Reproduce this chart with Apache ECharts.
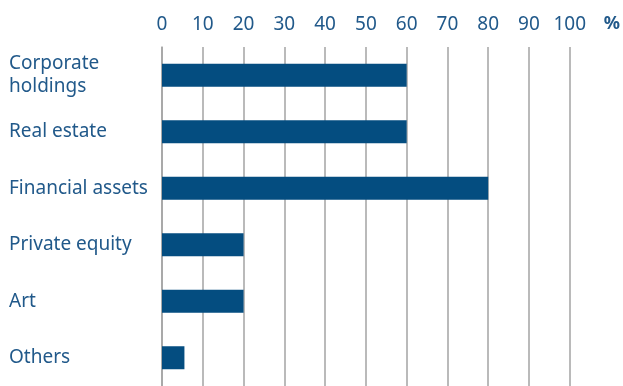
<!DOCTYPE html>
<html>
<head>
<meta charset="utf-8">
<script src="https://cdn.jsdelivr.net/npm/echarts@6/dist/echarts.min.js"></script>
<style>html,body{margin:0;padding:0;background:#fff}#c{width:623px;height:386px}</style>
</head>
<body>
<div id="c"></div>
<script>
const categories = ["Corporate\nholdings", "Real estate", "Financial assets", "Private equity", "Art", "Others"];
const values = [60, 60, 80, 20, 20, 5.5];
const xTicks = [0, 10, 20, 30, 40, 50, 60, 70, 80, 90, 100];

const textColor = "#21598a";
const fontFamily = "Noto Sans";
const chart = echarts.init(document.getElementById("c"));
chart.setOption({
  animation: false,
  backgroundColor: "#ffffff",
  grid: { left: 162, top: 47, width: 410, height: 342, containLabel: false },
  xAxis: {
    type: "value",
    position: "top",
    min: xTicks[0],
    max: xTicks[xTicks.length - 1],
    interval: 10,
    name: "%",
    nameLocation: "end",
    nameGap: 34,
    nameTextStyle: { color: textColor, fontFamily: fontFamily, fontSize: 18, fontWeight: "bold", verticalAlign: "bottom", padding: [0, 0, 14, 0] },
    axisLine: { show: false },
    axisTick: { show: false },
    axisLabel: { color: textColor, fontFamily: fontFamily, fontSize: 19, margin: 13 },
    splitLine: { show: true, lineStyle: { color: "#a3a3a3", width: 1.5 } }
  },
  yAxis: {
    type: "category",
    inverse: true,
    data: categories,
    axisLine: { show: true, lineStyle: { color: "#a3a3a3", width: 1.5 } },
    axisTick: { show: false },
    axisLabel: { color: textColor, fontFamily: fontFamily, fontSize: 19, lineHeight: 23, align: "left", margin: 153 }
  },
  series: [{
    type: "bar",
    data: values,
    barWidth: 23,
    itemStyle: { color: "#044d80" }
  }]
});
</script>
</body>
</html>
